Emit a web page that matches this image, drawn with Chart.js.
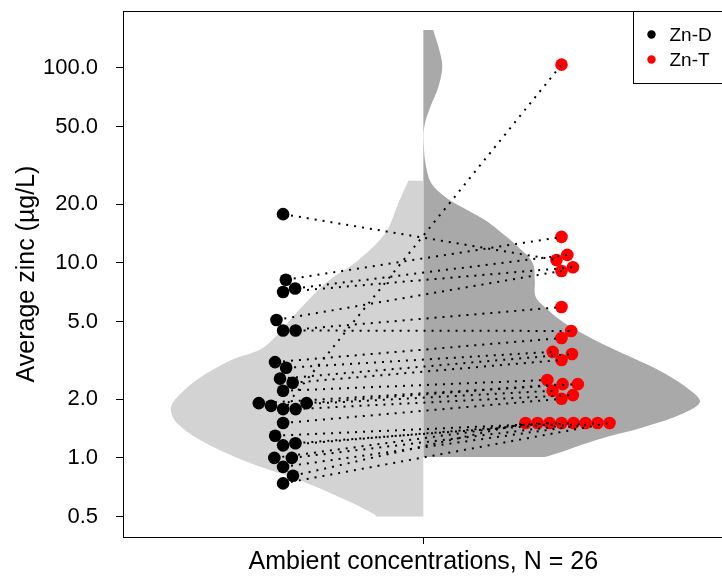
<!DOCTYPE html>
<html>
<head>
<meta charset="utf-8">
<script src="https://cdn.jsdelivr.net/npm/chart.js@4.4.1/dist/chart.umd.min.js"></script>
<style>
  html, body { margin: 0; padding: 0; background: #fff; overflow: hidden; }
  #wrap { width: 730px; height: 577px; }
</style>
</head>
<body>
<div id="wrap"><canvas id="chart"></canvas></div>
<script>
// tick labels on the log y axis
const yTickValues = [0.5, 1, 2, 5, 10, 20, 50, 100];

// paired samples (Zn-D -> Zn-T)
const znD = [17.8, 8.2, 7.4, 7.1, 5.1, 4.5, 4.5, 3.1, 2.9, 2.55, 2.43, 2.21, 1.91,
             1.91, 1.85, 1.78, 1.78, 1.51, 1.30, 1.19, 1.16, 1.0, 1.0, 0.90, 0.81, 0.74];
const znT = [10.35, 13.6, 11.0, 9.5, 9.1, 5.94, 4.48, 4.12, 3.5, 3.41, 3.18, 2.51, 2.39,
             2.39, 2.21, 104, 2.1, 2.01, 1.51, 1.51, 1.51, 1.51, 1.51, 1.51, 1.51, 1.51];

// violin outlines: level (ug/L) and half width (x axis units)
const violinDLevels = [26.4, 20.3, 14.3, 10.4, 7.9, 5.74, 3.71, 3.18, 2.51, 1.98, 1.76,
                       1.51, 1.24, 0.977, 0.771, 0.609, 0.51, 0.5];
const violinDWidths = [0.050, 0.083, 0.126, 0.215, 0.325, 0.414, 0.530, 0.639, 0.755,
                       0.828, 0.841, 0.821, 0.745, 0.603, 0.414, 0.258, 0.159, 0.159];
const violinTLevels = [156.6, 119, 101, 80, 63, 49.8, 39.3, 32.6, 25.7, 21.8, 19.4, 16.6,
                       14.8, 12.1, 10, 8.18, 6.7, 5.95, 4.92, 4.03, 3.30, 2.73, 2.23, 1.94,
                       1.70, 1.44, 1.24, 1.07, 1.01];
const violinTWidths = [0.033, 0.056, 0.063, 0.050, 0.023, 0.003, 0.002, 0.007, 0.026,
                       0.073, 0.126, 0.205, 0.248, 0.315, 0.364, 0.371, 0.374, 0.404,
                       0.470, 0.570, 0.689, 0.801, 0.887, 0.921, 0.868, 0.735, 0.579,
                       0.457, 0.404];

const centerD = -0.467;
const centerT = 0.46;
const FONT = 'Liberation Sans, Arial, sans-serif';

// closed outline of one half; corners are doubled so the spline keeps them sharp
function halfViolin(levels, widths, side) {
  const n = levels.length;
  const top = levels[0], bottom = levels[n - 1];
  const pts = [{ x: 0, y: top }];
  levels.forEach((v, i) => {
    pts.push({ x: side * widths[i], y: v });
    if (i === 0 || i === n - 1) pts.push({ x: side * widths[i], y: v });
  });
  pts.push({ x: 0, y: bottom }, { x: 0, y: bottom });
  pts.push({ x: 0, y: top });
  return pts;
}

const datasets = [];
datasets.push({
  label: 'violinD', data: halfViolin(violinDLevels, violinDWidths, -1),
  showLine: true, fill: 'shape', backgroundColor: '#d3d3d3', borderWidth: 0,
  pointRadius: 0, tension: 0.35, order: 2
});
datasets.push({
  label: 'violinT', data: halfViolin(violinTLevels, violinTWidths, 1),
  showLine: true, fill: 'shape', backgroundColor: '#a9a9a9', borderWidth: 0,
  pointRadius: 0, tension: 0.35, order: 2
});
datasets.push({
  label: 'Zn-D', data: znD.map(v => ({ x: centerD, y: v })),
  pointRadius: 6.3, pointBackgroundColor: '#000', pointBorderWidth: 0, order: 1
});
datasets.push({
  label: 'Zn-T', data: znT.map(v => ({ x: centerT, y: v })),
  pointRadius: 6.3, pointBackgroundColor: '#ff0000', pointBorderWidth: 0, order: 1
});
znD.forEach((d, i) => {
  datasets.push({
    label: 'pair' + i,
    data: [{ x: centerD, y: d }, { x: centerT, y: znT[i] }],
    showLine: true, borderColor: '#000', borderWidth: 2, borderDash: [2, 6],
    pointRadius: 0, fill: false, order: 0
  });
});

// frame round the plot
const frame = {
  id: 'frame',
  afterDraw(chart) {
    const { ctx, chartArea: a } = chart;
    ctx.save();
    ctx.strokeStyle = '#000';
    ctx.lineWidth = 1;
    ctx.strokeRect(Math.round(a.left) + 0.5, Math.round(a.top) + 0.5, a.right - a.left + 10, a.bottom - a.top);
    ctx.restore();
  }
};

// legend in top right corner with a box
const boxLegend = {
  id: 'boxLegend',
  afterDraw(chart) {
    const { ctx, chartArea: a } = chart;
    const left = Math.round(a.right) - 91 + 0.5;
    const top = Math.round(a.top) + 0.5;
    ctx.save();
    ctx.strokeStyle = '#000';
    ctx.lineWidth = 1;
    ctx.fillStyle = '#fff';
    ctx.fillRect(left, top, 200, 72);
    ctx.strokeRect(left, top, 200, 72);
    const items = [chart.data.datasets[2], chart.data.datasets[3]];
    ctx.font = '19px ' + FONT;
    ctx.textBaseline = 'middle';
    items.forEach((ds, i) => {
      const y = top + 23 + i * 25;
      ctx.beginPath();
      ctx.fillStyle = ds.pointBackgroundColor;
      ctx.arc(left + 18, y, 4.2, 0, Math.PI * 2);
      ctx.fill();
      ctx.fillStyle = '#000';
      ctx.fillText(ds.label, left + 36, y + 1);
    });
    ctx.restore();
  }
};

const chart = new Chart(document.getElementById('chart'), {
  type: 'scatter',
  data: { datasets },
  options: {
    responsive: true,
    maintainAspectRatio: false,
    animation: false,
    layout: { padding: { top: 11, right: 3, left: 0, bottom: 0 } },
    plugins: { legend: { display: false }, tooltip: { enabled: false } },
    scales: {
      x: {
        type: 'linear', min: -1, max: 1,
        afterBuildTicks: s => { s.ticks = [{ value: 0 }]; },
        afterFit: s => { s.height = 40; s.paddingLeft = 0; s.paddingRight = 0; },
        ticks: { display: false },
        grid: { drawOnChartArea: false, drawTicks: true, tickLength: 7, color: '#000' },
        border: { display: false },
        title: {
          display: true, text: 'Ambient concentrations, N = 26', color: '#000',
          font: { family: FONT, size: 25 }, padding: { top: 0, bottom: 0 }
        }
      },
      y: {
        type: 'logarithmic', min: 0.393, max: 196,
        afterBuildTicks: s => { s.ticks = yTickValues.map(v => ({ value: v })); },
        afterFit: s => { s.width = 123; s.paddingTop = 0; s.paddingBottom = 0; },
        ticks: {
          color: '#000', padding: 18, font: { family: FONT, size: 22 },
          callback: v => Number(v).toFixed(1)
        },
        grid: { drawOnChartArea: false, drawTicks: true, tickLength: 7, color: '#000' },
        border: { display: false },
        title: {
          display: true, text: 'Average zinc (µg/L)', color: '#000',
          font: { family: FONT, size: 25 }, padding: { top: 12, bottom: 0 }
        }
      }
    }
  },
  plugins: [frame, boxLegend]
});

// beeswarm placement of the points, done in pixels through the scales
function swarm(values, center, d) {
  const ys = chart.scales.y, xs = chart.scales.x;
  const pxPerUnit = xs.getPixelForValue(1) - xs.getPixelForValue(0);
  const py = values.map(v => ys.getPixelForValue(v));
  const order = values.map((v, i) => i).sort((a, b) => values[a] - values[b]);
  const placed = [];
  const off = new Array(values.length).fill(0);
  order.forEach(i => {
    const cands = [0];
    placed.forEach(p => {
      const dy = py[i] - p.y;
      if (Math.abs(dy) < d) {
        const dx = Math.sqrt(d * d - dy * dy);
        cands.push(p.x + dx, p.x - dx);
      }
    });
    cands.sort((a, b) => (Math.abs(a) - Math.abs(b)) || (b - a));
    const ok = cands.find(c => placed.every(p => Math.hypot(c - p.x, py[i] - p.y) >= d - 1e-6));
    off[i] = ok;
    placed.push({ x: ok, y: py[i] });
  });
  return off.map(o => center + o / pxPerUnit);
}

const xD = swarm(znD, centerD, 12.5);
const xT = swarm(znT, centerT, 12);
chart.data.datasets[2].data = znD.map((v, i) => ({ x: xD[i], y: v }));
chart.data.datasets[3].data = znT.map((v, i) => ({ x: xT[i], y: v }));
znD.forEach((d, i) => {
  chart.data.datasets[4 + i].data = [{ x: xD[i], y: d }, { x: xT[i], y: znT[i] }];
});
chart.update('none');
</script>
</body>
</html>
